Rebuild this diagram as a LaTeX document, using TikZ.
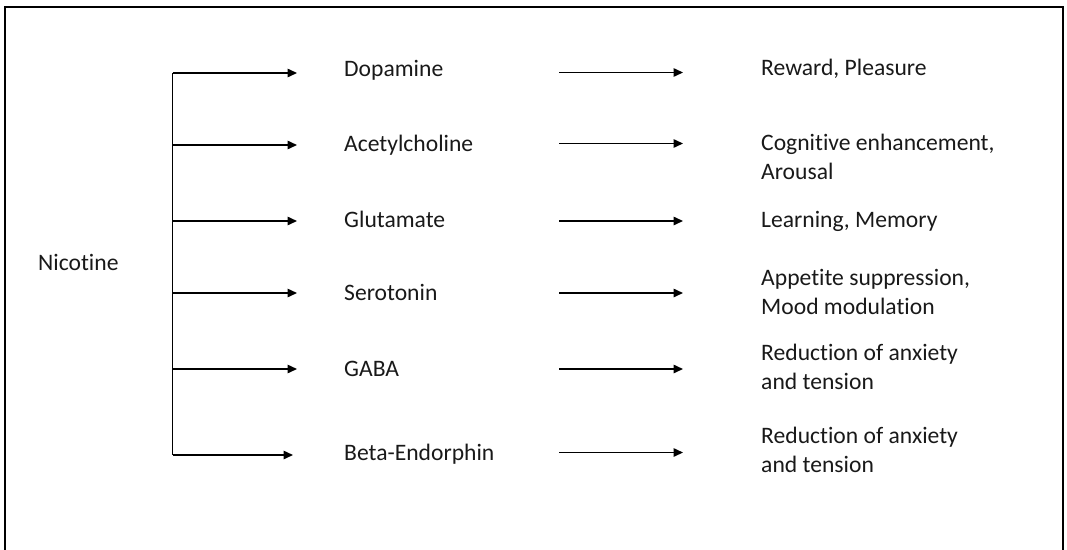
\documentclass[tikz,border=0pt]{standalone}
\usepackage{fontspec}
\setmainfont{Carlito}[Ligatures={NoCommon,NoContextual,NoRare},Contextuals=NoAlternate]
\usetikzlibrary{arrows.meta}
\begin{document}
\begin{tikzpicture}[x=1pt,y=-1pt,
  lbl/.style={anchor=base west, inner sep=0pt, font=\fontsize{23.6}{29}\selectfont, text=black!90},
  conn/.style={line width=1.5pt, draw=black},
  arr/.style={conn, -{Triangle[length=9.5pt,width=8.5pt]}},
  frame/.style={line width=2pt, draw=black}]
\useasboundingbox (0,0) rectangle (1067,549);
% outer frame (bottom edge lies outside the picture)
\draw[frame] (5,553) -- (5,6.5) -- (1063,6.5) -- (1063,553);

% source
\node[lbl] (nic) at (38,270) {Nicotine};

% trunk coordinates
\coordinate (t1) at (172.7,73);
\coordinate (t2) at (172.7,145);
\coordinate (t3) at (172.7,221);
\coordinate (t4) at (172.7,293);
\coordinate (t5) at (172.7,369);
\coordinate (t6) at (172.7,455);
% left arrow ends
\coordinate (e1) at (297,73);
\coordinate (e2) at (297,145);
\coordinate (e3) at (297,221);
\coordinate (e4) at (297,293);
\coordinate (e5) at (297,369);
\coordinate (e6) at (293,455);
% middle arrows
\coordinate (ms1) at (559,72.5);  \coordinate (me1) at (683,72.5);
\coordinate (ms2) at (559,143.5); \coordinate (me2) at (683,143.5);
\coordinate (ms3) at (559,221);   \coordinate (me3) at (683,221);
\coordinate (ms4) at (559,293);   \coordinate (me4) at (683,293);
\coordinate (ms5) at (559,369);   \coordinate (me5) at (683,369);
\coordinate (ms6) at (559,452.5); \coordinate (me6) at (683,452.5);

% neurotransmitters
\node[lbl] (n1) at (344,76) {Dopamine};
\node[lbl] (n2) at (344,151.5) {Acetylcholine};
\node[lbl] (n3) at (344,227.5) {Glutamate};
\node[lbl] (n4) at (344,300) {Serotonin};
\node[lbl] (n5) at (344,376) {GABA};
\node[lbl] (n6) at (344,460) {Beta-Endorphin};

% effects
\node[lbl] (f1) at (761,75) {Reward, Pleasure};
\node[lbl] (f2) at (761,150) {\begin{tabular}[t]{@{}l@{}}Cognitive enhancement,\\Arousal\end{tabular}};
\node[lbl] (f3) at (761,227.5) {Learning, Memory};
\node[lbl] (f4) at (761,285) {\begin{tabular}[t]{@{}l@{}}Appetite suppression,\\Mood modulation\end{tabular}};
\node[lbl] (f5) at (761,360.5) {\begin{tabular}[t]{@{}l@{}}Reduction of anxiety\\and tension\end{tabular}};
\node[lbl] (f6) at (761,443.5) {\begin{tabular}[t]{@{}l@{}}Reduction of anxiety\\and tension\end{tabular}};

% trunk
\draw[conn] (t1) -- (t6);
% branches
\foreach \i in {1,...,6} {
  \draw[arr] (t\i) -- (e\i);
  \draw[arr] (ms\i) -- (me\i);
}
\end{tikzpicture}
\end{document}
